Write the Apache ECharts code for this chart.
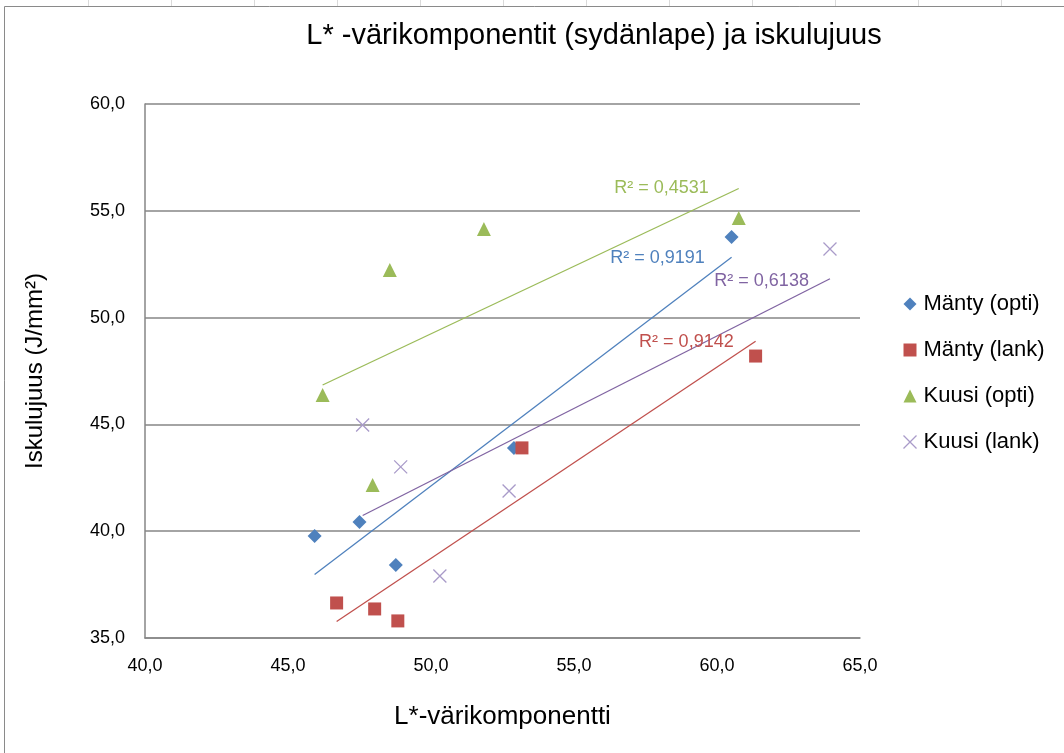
<!DOCTYPE html>
<html>
<head>
<meta charset="utf-8">
<script src="https://cdn.jsdelivr.net/npm/echarts@6/dist/echarts.min.js"></script>
<style>
  html, body { margin: 0; padding: 0; background: #fff; }
  #chart { width: 1064px; height: 753px; }
</style>
</head>
<body>
<div id="chart"></div>
<script>
// L* colour component (heartwood) versus impact strength, four sample groups
const seriesNames = ['Mänty (opti)', 'Mänty (lank)', 'Kuusi (opti)', 'Kuusi (lank)'];

const mantyOpti = [[45.93, 39.78], [47.50, 40.43], [48.77, 38.42], [52.90, 43.90], [60.51, 53.77]];
const mantyLank = [[46.70, 36.64], [48.03, 36.36], [48.84, 35.80], [53.18, 43.90], [61.35, 48.20]];
const kuusiOpti = [[46.21, 46.38], [48.56, 52.23], [51.85, 54.15], [47.96, 42.16], [60.76, 54.66]];
const kuusiLank = [[47.61, 44.97], [48.94, 43.01], [52.73, 41.88], [50.31, 37.90], [63.95, 53.21]];

// R² of each linear trend line, and where its label sits (data coordinates)
const r2Labels = ['R² = 0,9191', 'R² = 0,9142', 'R² = 0,4531', 'R² = 0,6138'];
const r2Anchor = [[57.92, 52.79], [58.93, 48.86], [58.06, 56.07], [61.56, 51.71]];

const xTicks = [40, 45, 50, 55, 60, 65];
const yTicks = [35, 40, 45, 50, 55, 60];

const colors = ['#4F81BD', '#C0504D', '#9BBB59', '#8064A2'];
const markerColors = ['#4F81BD', '#C0504D', '#9BBB59', '#A99BC9'];
const symbols = ['diamond', 'rect', 'triangle', 'path://M0,0L10,10M10,0L0,10'];
const symbolSizes = [14, 13, 14, 13];
const groups = [mantyOpti, mantyLank, kuusiOpti, kuusiLank];

const FONT = 'Liberation Sans';
const fmt = v => v.toFixed(1).replace('.', ',');

// Least-squares trend line across the x-range of a group
function trend(points) {
  const n = points.length;
  let sx = 0, sy = 0;
  points.forEach(p => { sx += p[0]; sy += p[1]; });
  const mx = sx / n, my = sy / n;
  let sxy = 0, sxx = 0;
  points.forEach(p => { sxy += (p[0] - mx) * (p[1] - my); sxx += (p[0] - mx) ** 2; });
  const b = sxy / sxx, a = my - b * mx;
  const xs = points.map(p => p[0]);
  const x0 = Math.min(...xs), x1 = Math.max(...xs);
  return [[x0, a + b * x0], [x1, a + b * x1]];
}

function markerStyle(i) {
  return i === 3
    ? { color: 'none', borderColor: markerColors[i], borderWidth: 1.3, opacity: 1 }
    : { color: markerColors[i], opacity: 1 };
}

const series = [];
groups.forEach((g, i) => {
  series.push({
    name: seriesNames[i],
    type: 'scatter',
    data: g,
    symbol: symbols[i],
    symbolSize: symbolSizes[i],
    z: 3,
    itemStyle: markerStyle(i)
  });
});
groups.forEach((g, i) => {
  series.push({
    name: seriesNames[i] + ' trend',
    type: 'line',
    data: trend(g),
    symbol: 'none',
    silent: true,
    z: 2,
    lineStyle: { color: colors[i], width: 1.3 }
  });
});

const chart = echarts.init(document.getElementById('chart'));
chart.setOption({
  animation: false,
  backgroundColor: '#fff',
  textStyle: { fontFamily: FONT },
  title: {
    text: 'L* -värikomponentit (sydänlape) ja iskulujuus',
    left: 589, top: 16, textAlign: 'center',
    textStyle: { fontFamily: FONT, fontSize: 29, fontWeight: 'normal', color: '#000' }
  },
  legend: {
    data: seriesNames.map((n, i) => ({ name: n, icon: symbols[i], itemStyle: markerStyle(i) })),
    orient: 'vertical',
    left: 896, top: 288,
    itemWidth: 13, itemHeight: 13, itemGap: 24,
    textStyle: { fontFamily: FONT, fontSize: 22, color: '#000', padding: [0, 0, 0, 2] }
  },
  grid: { left: 145, right: 204, top: 104, bottom: 115 },
  xAxis: {
    type: 'value', min: xTicks[0], max: xTicks[xTicks.length - 1], interval: 5,
    name: 'L*-värikomponentti', nameLocation: 'middle', nameGap: 66,
    nameTextStyle: { fontFamily: FONT, fontSize: 26, color: '#000' },
    axisLine: { show: true, lineStyle: { color: '#868686', width: 1.5 } },
    axisTick: { show: false },
    splitLine: { show: false },
    axisLabel: { formatter: fmt, fontFamily: FONT, fontSize: 18, color: '#000', margin: 19 }
  },
  yAxis: {
    type: 'value', min: yTicks[0], max: yTicks[yTicks.length - 1], interval: 5,
    name: 'Iskulujuus (J/mm²)', nameLocation: 'middle', nameGap: 98, nameRotate: 90,
    nameTextStyle: { fontFamily: FONT, fontSize: 24, color: '#000' },
    axisLine: { show: true, lineStyle: { color: '#868686', width: 1.5 } },
    axisTick: { show: false },
    splitLine: { show: true, lineStyle: { color: '#868686', width: 1.5 } },
    axisLabel: { formatter: fmt, fontFamily: FONT, fontSize: 18, color: '#000', margin: 20 }
  },
  series: series
});

// Chart-area frame, worksheet cell lines above it, and the R² captions
const graphics = [{
  type: 'rect', silent: true, z: -1,
  shape: { x: 4.5, y: 6.5, width: 1064, height: 760 },
  style: { fill: 'none', stroke: '#8a8a8a', lineWidth: 1 }
}];
for (let cx = 88; cx < 1064; cx += 83) {
  graphics.push({
    type: 'line', silent: true, z: -1,
    shape: { x1: cx + 0.5, y1: 0, x2: cx + 0.5, y2: 6 },
    style: { stroke: '#dadada', lineWidth: 1 }
  });
}
r2Labels.forEach((t, i) => {
  const p = chart.convertToPixel({ gridIndex: 0 }, r2Anchor[i]);
  graphics.push({
    type: 'text', silent: true, z: 10,
    x: p[0], y: p[1],
    style: {
      text: t, fill: colors[i], font: '18px "' + FONT + '"',
      textAlign: 'center', textVerticalAlign: 'middle'
    }
  });
});
chart.setOption({ graphic: graphics });
</script>
</body>
</html>
